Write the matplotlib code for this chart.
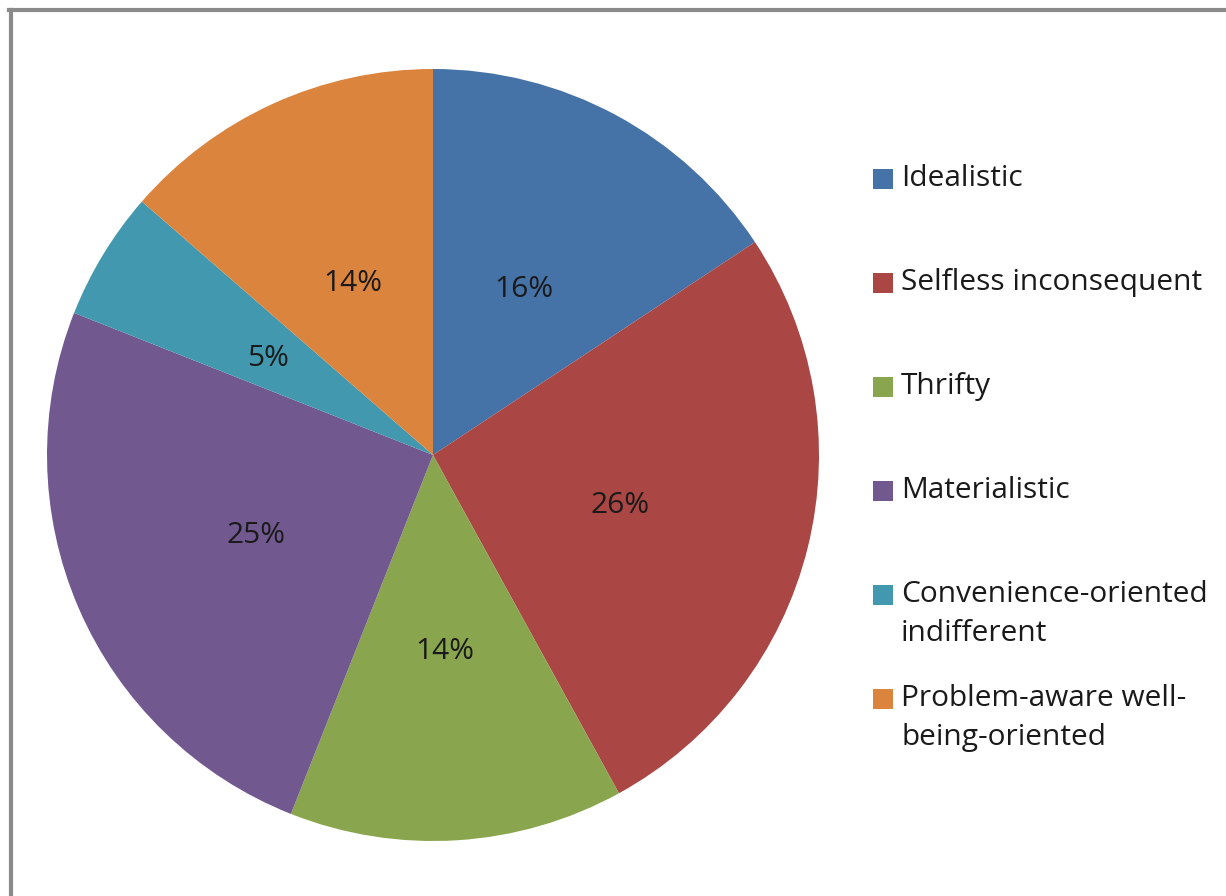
import matplotlib.pyplot as plt
from matplotlib.patches import Patch, Rectangle
from matplotlib.lines import Line2D
from matplotlib.legend_handler import HandlerPatch
from matplotlib.transforms import offset_copy

# data (share of respondents, %)
labels = ['Idealistic', 'Selfless inconsequent', 'Thrifty', 'Materialistic',
          'Convenience-oriented\nindifferent', 'Problem-aware well-\nbeing-oriented']
shares = [15.7, 26.3, 14.0, 25.0, 5.4, 13.6]
colors = ['#4572A7', '#AA4643', '#89A54E', '#71588F', '#4198AF', '#DB843D']

plt.rcParams['font.family'] = ['Open Sans', 'DejaVu Sans']
fs = 21.5

fig = plt.figure(figsize=(12.26, 8.96), dpi=100)
W, H = 1226, 896
cx, cy, r = 433, 455, 386
ax = fig.add_axes([(cx - r) / W, (H - cy - r) / H, 2 * r / W, 2 * r / H])

wedges, texts, autotexts = ax.pie(shares, colors=colors, startangle=90, counterclock=False,
                                  autopct='%1.0f%%', pctdistance=0.5, radius=1,
                                  wedgeprops=dict(linewidth=0),
                                  textprops=dict(fontsize=fs, color='#1a1a1a'))
# Open Sans sits a bit higher than the original font
for t in autotexts:
    t.set_transform(offset_copy(ax.transData, fig=fig, y=-4, units='dots'))
ax.set_xlim(-1, 1)
ax.set_ylim(-1, 1)
ax.set_aspect('auto')
ax.axis('off')


# every entry gets two text lines so the rows are evenly spaced;
# the square sits next to the first line (as in Excel)
def top_square(legend, orig_handle, xdescent, ydescent, width, height, fontsize):
    return Rectangle((-xdescent, -ydescent + 14.0), width, height)


leg_labels = [l if '\n' in l else l + '\n ' for l in labels]
handles = [Patch(facecolor=c, edgecolor='none') for c in colors]
leg = fig.legend(handles, leg_labels, loc='center left', bbox_to_anchor=(873 / W, 1 - 458 / H),
                 frameon=False, fontsize=fs, handlelength=0.67, handleheight=0.67,
                 handletextpad=0.27, labelspacing=1.18, borderpad=0, borderaxespad=0,
                 handler_map={Patch: HandlerPatch(patch_func=top_square)})
for t in leg.get_texts():
    t.set_linespacing(1.49)
    t.set_color('#1a1a1a')

# grey frame around the chart area (only left and top visible)
fig.add_artist(Line2D([10.5 / W, 10.5 / W], [0, 1 - 10 / H], transform=fig.transFigure,
                      color='#8a8a8a', lw=3))
fig.add_artist(Line2D([9 / W, 1], [1 - 10 / H, 1 - 10 / H], transform=fig.transFigure,
                      color='#8a8a8a', lw=3))

fig.savefig('out.png', dpi=100)
